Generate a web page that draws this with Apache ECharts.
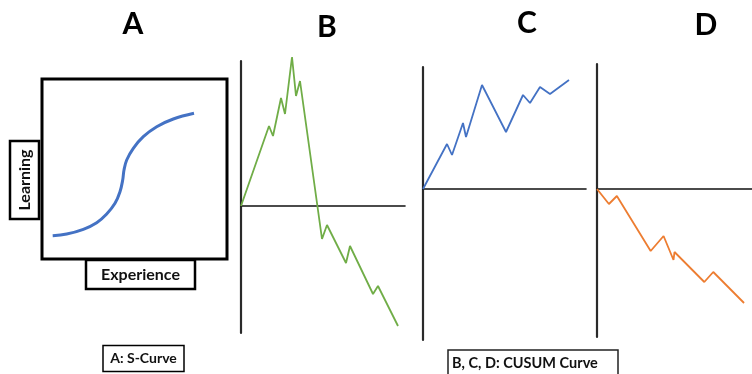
<!DOCTYPE html>
<html>
<head>
<meta charset="utf-8">
<script src="https://cdn.jsdelivr.net/npm/echarts@6/dist/echarts.min.js"></script>
<style>
  html, body { margin: 0; padding: 0; background: #fff; }
  #chart { width: 752px; height: 374px; }
</style>
</head>
<body>
<div id="chart"></div>
<script>
// Panel titles
const panelTitles = ['A', 'B', 'C', 'D'];

// A: S-shaped learning curve (experience vs learning)
const sCurveX = [1.07, 2.47, 4.13, 5.47, 6.47, 7.3, 7.8, 8.07, 8.2, 8.47, 9.13, 10.13, 11.47, 13.13, 15.2];
const sCurveY = [2.33, 2.5, 2.97, 3.63, 4.5, 5.57, 6.73, 7.9, 8.9, 9.9, 11.07, 12.23, 13.23, 14.0, 14.57];

// B: CUSUM rising then falling
const cusumBX = [0, 2.8, 3.2, 4.0, 4.4, 5.1, 5.5, 5.9, 8.1, 8.6, 10.5, 10.9, 13.2, 13.7, 15.7];
const cusumBY = [0, 8.0, 7.0, 10.8, 9.2, 14.9, 11.0, 12.5, -3.3, -1.9, -5.7, -4.0, -8.8, -8.0, -12.0];

// C: CUSUM rising
const cusumCX = [0, 2.4, 2.9, 4.0, 4.3, 5.9, 8.3, 10.0, 10.7, 11.7, 12.7, 14.6];
const cusumCY = [0, 4.5, 3.4, 6.6, 5.2, 10.4, 5.7, 9.4, 8.6, 10.2, 9.5, 10.9];

// D: CUSUM falling
const cusumDX = [0, 1.2, 2.0, 5.4, 6.7, 7.7, 7.8, 10.8, 11.7, 14.8];
const cusumDY = [0, -1.5, -0.7, -6.2, -4.7, -7.1, -6.3, -9.3, -8.3, -11.4];

// Box labels
const axisNameX = 'Experience';
const axisNameY = 'Learning';
const captionA = 'A: S-Curve';
const captionBCD = 'B, C, D: CUSUM Curve';

const FONT = 'Lato, "Open Sans", sans-serif';

function pairs(xs, ys) { return xs.map((x, i) => [x, ys[i]]); }

function hiddenAxis(extra) {
  return Object.assign({
    type: 'value',
    axisTick: { show: false },
    axisLabel: { show: false },
    splitLine: { show: false }
  }, extra);
}

const grids = [
  { left: 42, top: 79, width: 185, height: 180, show: true, borderColor: '#000', borderWidth: 3, backgroundColor: 'transparent' },
  { left: 241, top: 61, width: 164, height: 272 },
  { left: 423, top: 67, width: 163, height: 273 },
  { left: 597, top: 64, width: 156, height: 273 }
];

const vLine = { show: true, onZero: false, lineStyle: { color: '#2a2a2a', width: 2.2 } };
const hLine = { show: true, onZero: true, lineStyle: { color: '#111', width: 1.6 } };

const xAxes = [
  hiddenAxis({ gridIndex: 0, min: 0, max: 18.5, axisLine: { show: false } }),
  hiddenAxis({ gridIndex: 1, min: 0, max: 16.4, axisLine: hLine }),
  hiddenAxis({ gridIndex: 2, min: 0, max: 16.3, axisLine: hLine }),
  hiddenAxis({ gridIndex: 3, min: 0, max: 15.6, axisLine: hLine })
];
const yAxes = [
  hiddenAxis({ gridIndex: 0, min: 0, max: 18, axisLine: { show: false } }),
  hiddenAxis({ gridIndex: 1, min: -12.7, max: 14.5, axisLine: vLine }),
  hiddenAxis({ gridIndex: 2, min: -15.1, max: 12.2, axisLine: vLine }),
  hiddenAxis({ gridIndex: 3, min: -14.8, max: 12.5, axisLine: vLine })
];

function lineSeries(idx, xs, ys, color, width, smooth) {
  return {
    type: 'line', xAxisIndex: idx, yAxisIndex: idx,
    data: pairs(xs, ys), showSymbol: false, smooth: smooth || false,
    clip: false, silent: true,
    lineStyle: { color: color, width: width }
  };
}

const titlePos = [[133, 24], [327, 27], [527, 23], [706, 25]];

// Framed label; w/h are measured along the text direction before rotation
function boxLabel(cx, cy, w, h, text, size, rotation, lw) {
  return {
    type: 'group', x: cx, y: cy, rotation: rotation || 0,
    children: [
      { type: 'rect', shape: { x: -w / 2, y: -h / 2, width: w, height: h },
        style: { fill: '#fff', stroke: '#000', lineWidth: lw } },
      { type: 'text', x: 0, y: 0,
        style: { text: text, fill: '#111', font: 'bold ' + size + 'px ' + FONT,
                 textAlign: 'center', textVerticalAlign: 'middle' } }
    ]
  };
}

const graphics = panelTitles.map((t, i) => ({
  type: 'text', x: titlePos[i][0], y: titlePos[i][1],
  style: { text: t, fill: '#000', font: 'bold 30px ' + FONT,
           textAlign: 'center', textVerticalAlign: 'middle' }
}));
graphics.push(boxLabel(24.5, 180, 78, 29, axisNameY, 16, Math.PI / 2, 2.5));
graphics.push(boxLabel(140.5, 274.5, 109, 29, axisNameX, 16, 0, 2.5));
graphics.push(boxLabel(143.5, 358.5, 81, 26, captionA, 14, 0, 1.5));
graphics.push({
  type: 'group', x: 0, y: 0,
  children: [
    { type: 'rect', shape: { x: 448, y: 350, width: 170, height: 40 },
      style: { fill: '#fff', stroke: '#222', lineWidth: 1.5 } },
    { type: 'text', x: 452, y: 363,
      style: { text: captionBCD, fill: '#111', font: 'bold 14.5px ' + FONT,
               textAlign: 'left', textVerticalAlign: 'middle' } }
  ]
});

const chart = echarts.init(document.getElementById('chart'), null, { renderer: 'canvas' });
chart.setOption({
  animation: false,
  backgroundColor: '#fff',
  grid: grids,
  xAxis: xAxes,
  yAxis: yAxes,
  series: [
    lineSeries(0, sCurveX, sCurveY, '#4472C4', 3, 0.4),
    lineSeries(1, cusumBX, cusumBY, '#70AD47', 1.8),
    lineSeries(2, cusumCX, cusumCY, '#4472C4', 1.8),
    lineSeries(3, cusumDX, cusumDY, '#ED7D31', 1.8)
  ],
  graphic: graphics
});
</script>
</body>
</html>
